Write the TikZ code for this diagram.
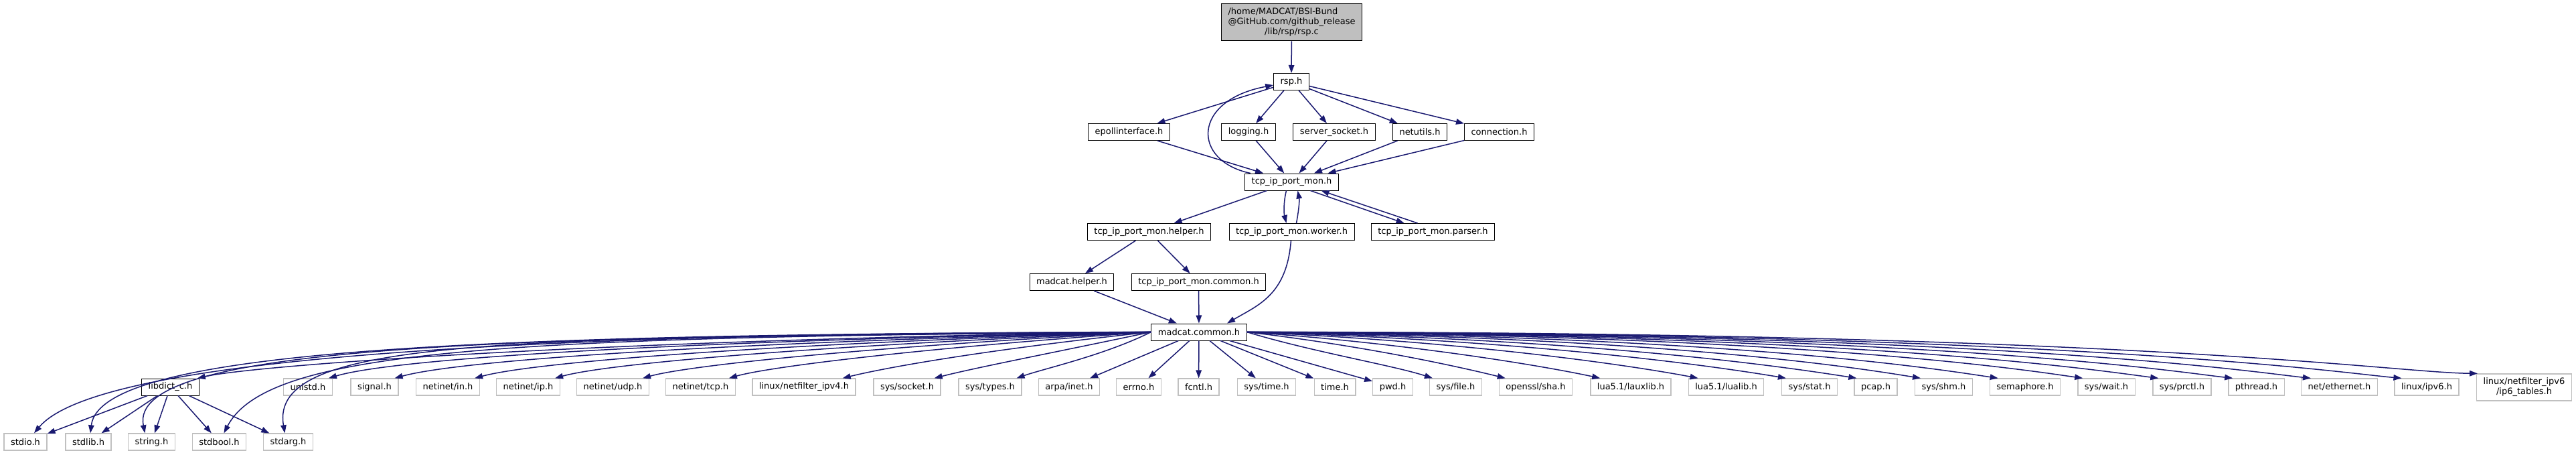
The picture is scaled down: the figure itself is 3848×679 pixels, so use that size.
\documentclass[tikz,border=0pt]{standalone}
\usepackage{fontspec}
\setmainfont{DejaVu Sans}
\usetikzlibrary{arrows.meta}
\definecolor{edgeblue}{HTML}{191970}
\definecolor{rootgray}{HTML}{BFBFBF}
\definecolor{extgray}{HTML}{C0C0C0}

\begin{document}
\begin{tikzpicture}[x=1pt, y=-1pt,
  hdr/.style={draw=black, fill=white, line width=1pt, inner xsep=10pt, inner ysep=0pt,
    minimum height=25pt, font=\fontsize{13}{15}\selectfont},
  ext/.style={hdr, draw=extgray, line width=1.3pt},
  root/.style={hdr, fill=rootgray, inner ysep=5pt},
  dep/.style={-{Triangle[length=12pt,width=8.5pt]}, edgeblue, line width=1.5pt}
]
  \useasboundingbox (0,0) rectangle (3848,679);

  \node[root] (root) at (1929.5,33.5)
    {\begin{tabular}{@{}l@{}}/home/MADCAT/BSI-Bund\\@GitHub.com/github\_release\\
     \multicolumn{1}{@{}c@{}}{/lib/rsp/rsp.c}\end{tabular}};
  \node[hdr] (rsp) at (1929,122) {rsp.h};

  \node[hdr] (epoll)    at (1686.5,197) {epollinterface.h};
  \node[hdr] (logging)  at (1865,197)   {logging.h};
  \node[hdr] (socket)   at (1993,197)   {server\_socket.h};
  \node[hdr] (netutils) at (2121,197)   {netutils.h};
  \node[hdr] (conn)     at (2239.5,197) {connection.h};

  \node[hdr] (tcpmon) at (1929.5,271.5) {tcp\_ip\_port\_mon.h};

  \node[hdr] (helper) at (1716.5,346) {tcp\_ip\_port\_mon.helper.h};
  \node[hdr] (worker) at (1929.5,346) {tcp\_ip\_port\_mon.worker.h};
  \node[hdr] (parser) at (2140.5,346) {tcp\_ip\_port\_mon.parser.h};

  \node[hdr] (mhelper) at (1601,421)   {madcat.helper.h};
  \node[hdr] (common)  at (1790.5,421) {tcp\_ip\_port\_mon.common.h};

  \node[hdr] (mc) at (1791,495.5) {madcat.common.h};

  \node[hdr] (libdict) at (254.5,577.5) {libdict\_c.h};
  \foreach \n/\x/\t in {unistd/460/{unistd.h}, signal/559.5/{signal.h},
      nin/669/{netinet/in.h}, nip/789/{netinet/ip.h}, nudp/915.5/{netinet/udp.h},
      ntcp/1046.5/{netinet/tcp.h}, nf4/1201/{linux/netfilter\_ipv4.h},
      ssocket/1355/{sys/socket.h}, stypes/1479/{sys/types.h}, arpa/1597/{arpa/inet.h},
      errno/1701/{errno.h}, fcntl/1790.5/{fcntl.h}, stime/1892/{sys/time.h},
      time/1994/{time.h}, pwd/2080.5/{pwd.h}, sfile/2174.5/{sys/file.h},
      sha/2294/{openssl/sha.h}, lauxlib/2436/{lua5.1/lauxlib.h},
      lualib/2578.5/{lua5.1/lualib.h}, sstat/2703/{sys/stat.h}, pcap/2802/{pcap.h},
      sshm/2903.5/{sys/shm.h}, sema/3025/{semaphore.h}, swait/3146.5/{sys/wait.h},
      prctl/3259.5/{sys/prctl.h}, pthread/3370.5/{pthread.h},
      ether/3494.5/{net/ethernet.h}, ipv6/3625/{linux/ipv6.h}}
    \node[ext] (\n) at (\x,577.5) {\t};
  \node[ext, align=center, minimum height=40pt] (ip6t) at (3770.5,578)
    {linux/netfilter\_ipv6\\/ip6\_tables.h};

  \foreach \n/\x/\t in {stdio/38/{stdio.h}, stdlib/132/{stdlib.h}, string/226.5/{string.h},
      stdbool/327.5/{stdbool.h}, stdarg/430.5/{stdarg.h}}
    \node[ext] (\n) at (\x,659.5) {\t};

  \draw[dep] (root) -- (rsp);
  \foreach \n in {epoll,logging,socket,netutils,conn} {
    \draw[dep] (rsp) -- (\n);
    \draw[dep] (\n) -- (tcpmon);
  }
  \draw[dep] (tcpmon) .. controls (1780,240) and (1780,150) .. (rsp);

  \draw[dep] (tcpmon) -- (helper);
  \draw[dep] ([xshift=-8pt]tcpmon.south) .. controls +(-4pt,-16pt) and +(-4pt,16pt) .. ([xshift=-8pt]worker.north);
  \draw[dep] ([xshift=7pt]worker.north) .. controls +(3pt,16pt) and +(3pt,-16pt) .. ([xshift=9pt]tcpmon.south);
  \draw[dep] ([xshift=28pt]tcpmon.south) -- ([xshift=-43pt]parser.north);
  \draw[dep] ([xshift=-23pt]parser.north) -- ([xshift=44pt]tcpmon.south);

  \draw[dep] (helper) -- (mhelper);
  \draw[dep] (helper) -- (common);
  \draw[dep] (mhelper) -- (mc);
  \draw[dep] (common) -- (mc);
  \draw[dep] (worker) .. controls (1922,440) and (1880,455) .. ([xshift=42pt]mc.north);

  \foreach \n/\s/\ax/\ay/\bx/\by in {stdio/13/700/497/140/540, stdlib/3/720/499/150/520,
      string/-10/740/501/190/515, stdbool/7/760/503/400/520, stdarg/-5/780/505/400/500}
    \draw[dep] (mc.west) .. controls (\ax,\ay) and (\bx,\by) .. ([xshift=\s pt]\n.north);
  \foreach \n/\s/\ax/\ay/\bx/\by in {libdict/-3/900/507/380/545, unistd/-6/1000/509/590/535,
      signal/-6/1080/511/690/537, nin/-8/1150/513/800/540, nip/-8/1230/515/910/542,
      nudp/-10/1300/517/1030/545, ntcp/-10/1380/519/1150/547, nf4/-20/1480/521/1330/547,
      ssocket/-10/1580/525/1460/548, stypes/-8/1650/530/1560/550}
    \draw[dep] (mc.west) .. controls (\ax,\ay) and (\bx,\by) .. ([xshift=\s pt]\n.north east);
  \foreach \n/\s/\ax/\ay/\bx/\by in {sfile/5/1960/525/2080/545, sha/10/2030/515/2170/545,
      lauxlib/15/2100/512/2300/545, lualib/15/2200/510/2440/546, sstat/7/2300/508/2570/548,
      pcap/4/2400/506/2680/550, sshm/9/2500/504/2780/550, sema/13/2600/502/2900/552,
      swait/8/2700/500/3030/553, prctl/9/2800/499/3140/554, pthread/7/2900/498/3250/555,
      ether/15/3000/497/3370/556, ipv6/11/3100/496/3500/557, ip6t/2/3200/495/3570/556}
    \draw[dep] (mc.east) .. controls (\ax,\ay) and (\bx,\by) .. ([xshift=\s pt]\n.north west);
  \foreach \n in {arpa,errno,fcntl,stime,time,pwd}
    \draw[dep] (mc) -- (\n);

  \foreach \n in {stdio,stdlib,string,stdbool,stdarg}
    \draw[dep] (libdict) -- (\n);
\end{tikzpicture}
\end{document}
